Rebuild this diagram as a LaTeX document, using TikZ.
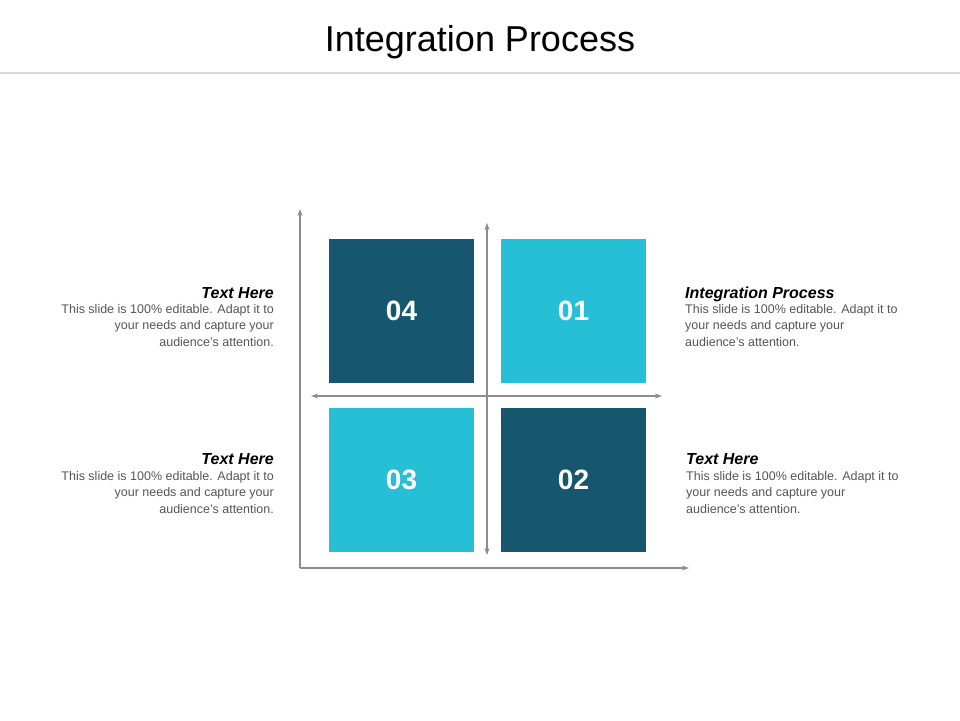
\documentclass[tikz,border=0pt]{standalone}
\usepackage{fontspec}
\setmainfont{Liberation Sans}
\usetikzlibrary{arrows.meta}
\definecolor{darkblue}{HTML}{17566F}
\definecolor{lightblue}{HTML}{27BFD6}
\definecolor{axisgray}{HTML}{8C8C8C}
\definecolor{bodygray}{HTML}{555555}
\begin{document}
\begin{tikzpicture}[x=1pt, y=-1pt,
    tile/.style={minimum width=145pt, minimum height=144pt, inner sep=0pt,
      text=white, font=\fontsize{28}{30}\selectfont\bfseries},
    axis/.style={axisgray, line width=1.2pt, -{Stealth[length=7pt,width=5pt]}},
    cross/.style={axisgray, line width=1.2pt, {Stealth[length=7pt,width=5pt]}-{Stealth[length=7pt,width=5pt]}},
    head/.style={font=\fontsize{16}{18}\selectfont\bfseries\itshape, inner sep=0pt},
    body/.style={font=\fontsize{12.5}{16.5}\selectfont, text=bodygray, inner sep=0pt}]
  \useasboundingbox (0,0) rectangle (960,720);
  % title
  \node (title) at (480,42) {\fontsize{36}{40}\selectfont Integration Process};
  \draw[black!15, line width=2.5pt] (0,73) -- (960,73);

  % tiles
  \node[tile, fill=darkblue]  (t04) at (401.5,311) {04};
  \node[tile, fill=lightblue] (t01) at (573.5,311) {01};
  \node[tile, fill=lightblue] (t03) at (401.5,480) {03};
  \node[tile, fill=darkblue]  (t02) at (573.5,480) {02};

  % axes
  \coordinate (o) at (300,568);
  \coordinate (ytop) at (300,209);
  \coordinate (xend) at (689,568);
  \draw[axis] (o) -- (ytop);
  \draw[axis] (o) -- (xend);
  \coordinate (vt) at (487,223);
  \coordinate (vb) at (487,555);
  \coordinate (hl) at (311,396);
  \coordinate (hr) at (662,396);
  \draw[cross] (vt) -- (vb);
  \draw[cross] (hl) -- (hr);

  % texts
  \node[head, anchor=base east] (h4) at (274,298) {Text Here};
  \node[body, anchor=north east, align=right] (b4) at (274,304)
    {This slide is 100\% editable. Adapt it to\\your needs and capture your\\audience's attention.};
  \node[head, anchor=base east] (h3) at (274,464) {Text Here};
  \node[body, anchor=north east, align=right] (b3) at (274,471)
    {This slide is 100\% editable. Adapt it to\\your needs and capture your\\audience's attention.};
  \node[head, anchor=base west] (h1) at (685,298) {Integration Process};
  \node[body, anchor=north west, align=left] (b1) at (685,304)
    {This slide is 100\% editable. Adapt it to\\your needs and capture your\\audience's attention.};
  \node[head, anchor=base west] (h2) at (686,464) {Text Here};
  \node[body, anchor=north west, align=left] (b2) at (686,471)
    {This slide is 100\% editable. Adapt it to\\your needs and capture your\\audience's attention.};
\end{tikzpicture}
\end{document}
